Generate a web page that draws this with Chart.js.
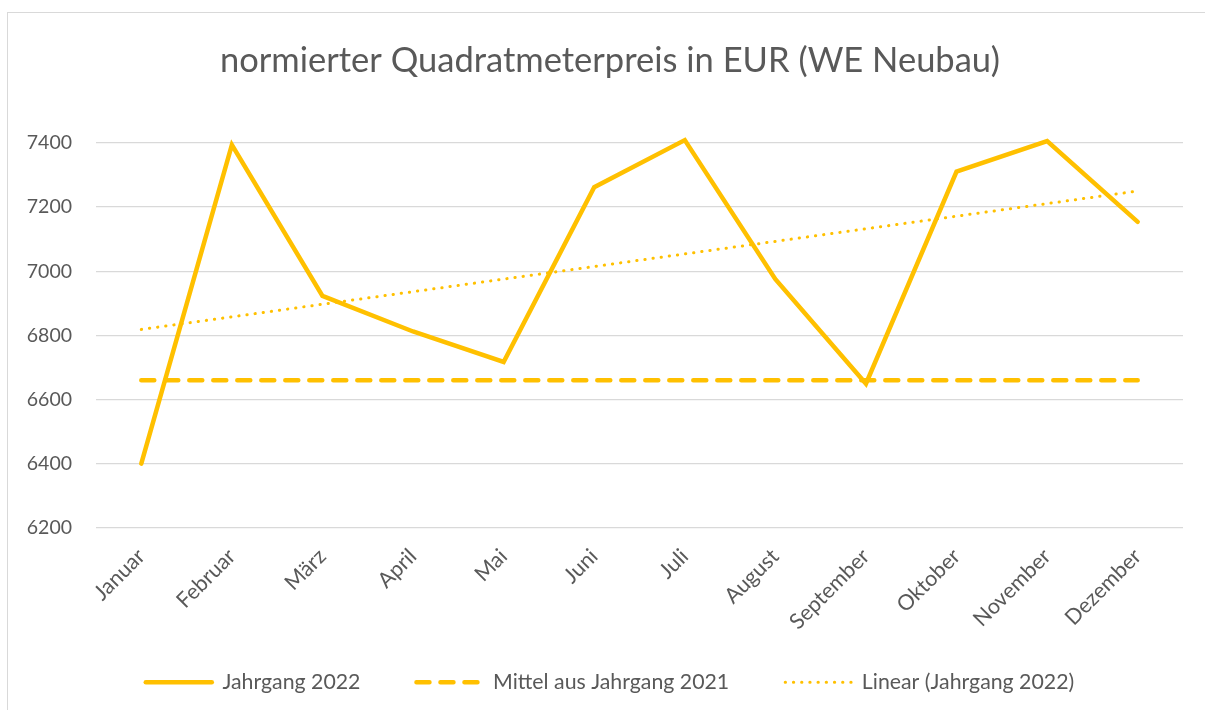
<!DOCTYPE html>
<html>
<head>
<meta charset="utf-8">
<script src="https://cdn.jsdelivr.net/npm/chart.js@4.4.1/dist/chart.umd.min.js"></script>
<style>
  html, body { margin: 0; padding: 0; background: #fff; }
  #wrap { position: relative; width: 1205px; height: 710px; overflow: hidden; }
  #frame { position: absolute; left: 7px; top: 12px; width: 1210px; height: 720px; border: 1px solid #d9d9d9; box-sizing: border-box; }
  canvas { position: absolute; left: 0; top: 0; }
</style>
</head>
<body>
<div id="wrap">
  <div id="frame"></div>
  <canvas id="c" width="1205" height="710"></canvas>
</div>
<script>
const months = ["Januar","Februar","März","April","Mai","Juni","Juli","August","September","Oktober","November","Dezember"];
const jahrgang2022 = [6400, 7394, 6923, 6812, 6717, 7262, 7409, 6975, 6649, 7311, 7406, 7154];
const mittel2021Value = 6660;
const mittel2021 = months.map(() => mittel2021Value);
const yTicks = [6200, 6400, 6600, 6800, 7000, 7200, 7400];
const seriesNames = ["Jahrgang 2022", "Mittel aus Jahrgang 2021", "Linear (Jahrgang 2022)"];
const titleText = "normierter Quadratmeterpreis in EUR (WE Neubau)";

// Linear trendline (least squares) of Jahrgang 2022, as the spreadsheet computes it
function linearTrend(vals) {
  const n = vals.length;
  const xs = vals.map((_, i) => i + 1);
  const mx = xs.reduce((a, b) => a + b, 0) / n;
  const my = vals.reduce((a, b) => a + b, 0) / n;
  let sxy = 0, sxx = 0;
  for (let i = 0; i < n; i++) { sxy += (xs[i] - mx) * (vals[i] - my); sxx += (xs[i] - mx) ** 2; }
  const slope = sxy / sxx;
  return xs.map(x => my + slope * (x - mx));
}
const trend2022 = linearTrend(jahrgang2022);

const gold = "#FFC000";
const textCol = "#595959";
const fontFam = "Lato, 'Open Sans', sans-serif";

new Chart(document.getElementById("c"), {
  type: "line",
  data: {
    labels: months,
    datasets: [
      { label: seriesNames[0], data: jahrgang2022, borderColor: gold, backgroundColor: gold, clip: false,
        borderWidth: 4.5, pointRadius: 0, tension: 0, borderCapStyle: "round", borderJoinStyle: "miter" },
      { label: seriesNames[1], data: mittel2021, borderColor: gold, backgroundColor: gold, clip: false,
        borderWidth: 4.5, pointRadius: 0, borderDash: [13, 11], borderCapStyle: "round" },
      { label: seriesNames[2], data: trend2022, borderColor: gold, backgroundColor: gold, clip: false,
        borderWidth: 3, pointRadius: 0, borderDash: [0.3, 7.9], borderCapStyle: "round" }
    ]
  },
  options: {
    responsive: false,
    animation: false,
    events: [],
    layout: { padding: { left: 37, right: 22, top: 0, bottom: 7 } },
    plugins: {
      tooltip: { enabled: false },
      title: {
        display: true, text: titleText, color: textCol,
        font: { family: fontFam, size: 34.5, weight: "normal" },
        padding: { top: 40, bottom: 61.6 }
      },
      legend: {
        position: "bottom",
        labels: {
          color: textCol, font: { family: fontFam, size: 21.3 },
          usePointStyle: true, pointStyle: "line", pointStyleWidth: 66,
          boxHeight: 21, padding: 56,
          generateLabels: chart => chart.data.datasets.map((ds, i) => ({
            text: ds.label, datasetIndex: i, hidden: false,
            fillStyle: ds.borderColor, strokeStyle: ds.borderColor,
            lineWidth: ds.borderWidth, lineDash: ds.borderDash || [], lineDashOffset: 0,
            lineCap: "round", pointStyle: "line", fontColor: textCol
          }))
        }
      }
    },
    scales: {
      x: {
        offset: true,
        grid: { display: false, offset: true },
        border: { display: false },
        ticks: { color: textCol, font: { family: fontFam, size: 21.5 }, maxRotation: 45, minRotation: 45, padding: 8, autoSkip: false },
        afterFit: s => { s.height = 88; }
      },
      y: {
        min: 6200, max: 7400,
        afterBuildTicks: s => { s.ticks = yTicks.map(v => ({ value: v })); },
        grid: { color: "#d9d9d9", lineWidth: 1.3, drawTicks: false },
        border: { display: false },
        ticks: { color: textCol, font: { family: fontFam, size: 19.5 }, padding: 24, callback: v => String(v) },
        afterFit: s => { s.width = 59; }
      }
    }
  },
  plugins: [{
    id: "labelRoom",
    afterLayout(chart) {
      // widen the label clip boxes so rotated / left labels are not cut
      chart.scales.x.bottom = chart.height;
      chart.scales.y.left = 0;
    }
  }]
});
</script>
</body>
</html>
